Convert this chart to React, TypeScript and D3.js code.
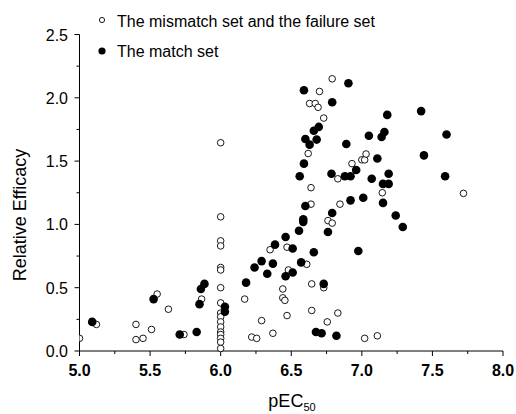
import * as d3 from 'd3';

// open circles: the mismatch set and the failure set  [pEC50, relative efficacy]
const mismatchSet: [number, number][] = [
  [5.0, 0.1], [5.12, 0.21], [5.4, 0.21], [5.4, 0.09], [5.45, 0.1], [5.51, 0.17],
  [5.55, 0.45], [5.63, 0.33], [5.74, 0.13], [5.865, 0.41],
  [6.0, 1.645], [6.0, 1.06], [6.0, 0.87], [6.0, 0.83], [6.0, 0.66], [6.0, 0.64],
  [6.0, 0.5], [6.0, 0.38], [6.0, 0.3], [6.0, 0.27], [6.0, 0.23], [6.0, 0.19],
  [6.0, 0.15], [6.0, 0.13], [6.0, 0.1], [6.0, 0.07], [6.0, 0.02],
  [6.17, 0.41], [6.22, 0.11], [6.255, 0.1], [6.29, 0.24], [6.35, 0.8], [6.37, 0.14],
  [6.44, 0.49], [6.44, 0.42], [6.455, 0.4], [6.47, 0.28], [6.47, 0.82], [6.48, 0.64],
  [6.61, 0.685], [6.645, 0.53], [6.645, 0.32], [6.73, 0.5], [6.755, 0.23], [6.83, 0.3],
  [7.02, 0.1], [7.11, 0.12], [6.62, 1.56], [6.64, 1.29], [6.64, 1.16], [6.76, 1.03],
  [6.79, 1.01], [6.845, 1.16], [6.83, 1.36], [6.93, 1.48], [7.0, 1.51], [7.02, 1.51],
  [7.03, 1.556], [7.145, 1.25], [7.72, 1.245], [6.7, 2.05], [6.79, 2.15], [6.63, 1.955],
  [6.67, 1.955], [6.69, 1.925], [6.73, 1.84],
];

// filled circles: the match set
const matchSet: [number, number][] = [
  [5.09, 0.23], [5.525, 0.41], [5.71, 0.13], [5.83, 0.15], [5.85, 0.37], [5.86, 0.49],
  [5.885, 0.53], [6.03, 0.35], [6.03, 0.31], [6.18, 0.54], [6.24, 0.66], [6.29, 0.71],
  [6.33, 0.61], [6.37, 0.69], [6.385, 0.84], [6.46, 0.59], [6.46, 0.9], [6.51, 0.62],
  [6.51, 0.81], [6.555, 0.95], [6.57, 0.7], [6.585, 1.04], [6.585, 1.02], [6.6, 1.145],
  [6.56, 1.38], [6.59, 1.48], [6.6, 1.675], [6.63, 1.63], [6.68, 1.67], [6.66, 1.74],
  [6.695, 1.77], [6.59, 2.06], [6.79, 1.965], [6.905, 2.115], [6.66, 0.78], [6.675, 0.15],
  [6.715, 0.14], [6.73, 0.53], [6.82, 0.12], [6.76, 0.94], [6.79, 1.09], [6.785, 1.4],
  [6.88, 1.38], [6.92, 1.38], [6.96, 1.43], [6.92, 1.19], [6.89, 1.635], [6.975, 0.79],
  [7.01, 1.21], [7.05, 1.7], [7.07, 1.36], [7.11, 1.52], [7.14, 1.69], [7.16, 1.73],
  [7.18, 1.865], [7.15, 1.32], [7.19, 1.32], [7.19, 1.4], [7.15, 1.17], [7.24, 1.07],
  [7.29, 0.98], [7.42, 1.895], [7.44, 1.545], [7.59, 1.38], [7.6, 1.71],
];

const xTicks = [5.0, 5.5, 6.0, 6.5, 7.0, 7.5, 8.0];
const xMinor = [5.25, 5.75, 6.25, 6.75, 7.25, 7.75];
const yTicks = [0.0, 0.5, 1.0, 1.5, 2.0, 2.5];
const yMinor = [0.25, 0.75, 1.25, 1.75, 2.25];

const legendLabels = ['The mismatch set and the failure set', 'The match set'];

const W = 516;
const H = 414;
const FONT = '"Liberation Sans", Arial, sans-serif';

export default function App() {
  const x = d3.scaleLinear().domain([5, 8]).range([79.5, 503]);
  const y = d3.scaleLinear().domain([0, 2.5]).range([351, 34.5]);

  return (
    <div style={{ position: 'absolute', left: 0, top: 0 }}>
      <svg width={W} height={H} style={{ display: 'block', background: '#fff' }} fontFamily={FONT}>
        {/* axes */}
        <line x1={x(5)} x2={x(8)} y1={y(0)} y2={y(0)} stroke="#000" />
        <line x1={x(5)} x2={x(5)} y1={y(0)} y2={y(2.5)} stroke="#000" />
        {xTicks.map((t) => (
          <g key={'xt' + t}>
            <line x1={x(t)} x2={x(t)} y1={y(0)} y2={y(0) + 5} stroke="#000" />
            <text x={x(t)} y={376} textAnchor="middle" fontSize={16} fontWeight="bold">
              {d3.format('.1f')(t)}
            </text>
          </g>
        ))}
        {xMinor.map((t) => (
          <line key={'xm' + t} x1={x(t)} x2={x(t)} y1={y(0)} y2={y(0) + 3} stroke="#000" />
        ))}
        {yTicks.map((t) => (
          <g key={'yt' + t}>
            <line x1={x(5) - 5} x2={x(5)} y1={y(t)} y2={y(t)} stroke="#000" />
            <text x={68} y={y(t) + 6} textAnchor="end" fontSize={16}>
              {d3.format('.1f')(t)}
            </text>
          </g>
        ))}
        {yMinor.map((t) => (
          <line key={'ym' + t} x1={x(5) - 3} x2={x(5)} y1={y(t)} y2={y(t)} stroke="#000" />
        ))}

        {/* axis titles */}
        <text x={292} y={407} textAnchor="middle" fontSize={18}>
          pEC<tspan fontSize={11} dy={4}>50</tspan>
        </text>
        <text transform="translate(26,215) rotate(-90)" textAnchor="middle" fontSize={18}>
          Relative Efficacy
        </text>

        {/* points */}
        <g clipPath="url(#plotclip)">
          {mismatchSet.map(([px, py], i) => (
            <circle key={'o' + i} cx={x(px)} cy={y(py)} r={3.3} fill="#fff" stroke="#000" strokeWidth={0.9} />
          ))}
          {matchSet.map(([px, py], i) => (
            <circle key={'f' + i} cx={x(px)} cy={y(py)} r={4.3} fill="#000" />
          ))}
        </g>
        <defs>
          <clipPath id="plotclip">
            <rect x={x(5)} y={0} width={W} height={y(0) + 10} />
          </clipPath>
        </defs>

        {/* legend */}
        <circle cx={102} cy={20} r={2.6} fill="#fff" stroke="#000" strokeWidth={0.9} />
        <text x={117} y={27} fontSize={16}>{legendLabels[0]}</text>
        <circle cx={102} cy={51} r={3.6} fill="#000" />
        <text x={117} y={57} fontSize={16}>{legendLabels[1]}</text>
      </svg>
    </div>
  );
}
